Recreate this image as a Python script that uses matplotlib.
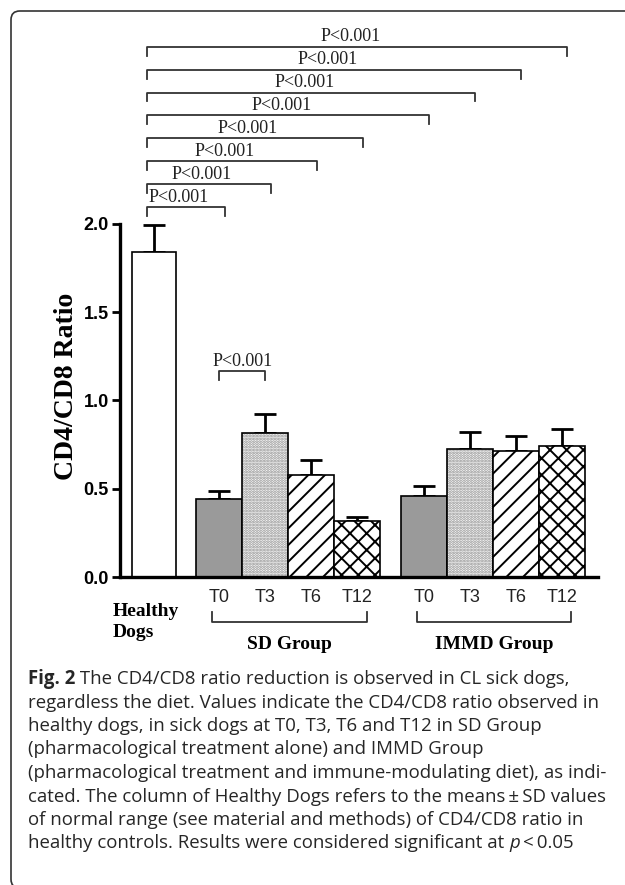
"""CD4/CD8 ratio bar chart with significance brackets and figure caption"""

import matplotlib
matplotlib.use("Agg")
import matplotlib.pyplot as plt
from matplotlib.patches import FancyBboxPatch

# data
tick_labels = ["T0", "T3", "T6", "T12", "T0", "T3", "T6", "T12"]
healthy_mean = 1.84
healthy_sd = 0.155
sd_means = [0.44, 0.815, 0.578, 0.317]
sd_err = [0.05, 0.11, 0.085, 0.023]
immd_means = [0.46, 0.725, 0.714, 0.742]
immd_err = [0.056, 0.095, 0.086, 0.098]
group_names = ["SD Group", "IMMD Group"]
# (from bar, to bar) in drawing order; 0 = healthy dogs
comparisons = [(0, 1), (0, 2), (0, 3), (0, 4), (0, 5), (0, 6), (0, 7), (0, 8)]
inner_comparison = (1, 2)
p_label = "P<0.001"

caption_lines = [
    "regardless the diet. Values indicate the CD4/CD8 ratio observed in",
    "healthy dogs, in sick dogs at T0, T3, T6 and T12 in SD Group",
    "(pharmacological treatment alone) and IMMD Group",
    "(pharmacological treatment and immune-modulating diet), as indi-",
    "cated. The column of Healthy Dogs refers to the means\u2009\u00b1\u2009SD values",
    "of normal range (see material and methods) of CD4/CD8 ratio in",
]

W, H = 625, 885
SERIF = ["Liberation Serif", "DejaVu Serif"]
CAP = ["Open Sans", "DejaVu Sans"]

plt.rcParams["hatch.linewidth"] = 1.4

fig = plt.figure(figsize=(W / 100, H / 100), dpi=100)
ax = fig.add_axes([120 / W, 1 - 577 / H, (598 - 120) / W, (577 - 224) / H])

# bar positions (in bar widths)
sd_x = [1.42 + i for i in range(4)]
immd_x = [5.86 + i for i in range(4)]
all_x = [0.0] + sd_x + immd_x

fills = ["#9a9a9a", "white", "white", "white"]
hatches = [None, "......", "//", "xx"]
hatch_cols = ["black", "#8c8c8c", "black", "black"]

ax.bar([0.0], [healthy_mean], width=0.96, color="white", edgecolor="black", linewidth=1.2, zorder=2)
for xs, ms in [(sd_x, sd_means), (immd_x, immd_means)]:
    for x, m, fc, h, hc in zip(xs, ms, fills, hatches, hatch_cols):
        # hatch first (its colour follows the edge colour), then the black outline
        ax.bar([x], [m], width=1.0, color=fc, edgecolor=hc, hatch=h, linewidth=0, zorder=2)
        ax.bar([x], [m], width=1.0, fill=False, edgecolor="black", linewidth=1.2, zorder=2)

means = [healthy_mean] + sd_means + immd_means
errs = [healthy_sd] + sd_err + immd_err
ax.errorbar(all_x, means, yerr=[[0] * len(errs), errs], fmt="none", ecolor="black",
            elinewidth=2, capsize=8, capthick=2, zorder=1)

ax.set_xlim(-0.74, 9.65)
ax.set_ylim(0, 2.0)
ax.set_yticks([0.0, 0.5, 1.0, 1.5, 2.0])
ax.set_yticklabels(["0.0", "0.5", "1.0", "1.5", "2.0"], fontweight="bold",
                   family=["Liberation Sans", "DejaVu Sans"], fontsize=13)
ax.set_xticks(all_x[1:])
ax.set_xticklabels(tick_labels, family=["Liberation Sans Narrow", "Liberation Sans"],
                   fontsize=13, color="#222222")
ax.tick_params(axis="x", length=0, pad=9)
ax.tick_params(axis="y", length=6, width=2, direction="out", pad=2)
for side in ["top", "right"]:
    ax.spines[side].set_visible(False)
for side in ["left", "bottom"]:
    ax.spines[side].set_linewidth(2.4)
ax.set_ylabel("CD4/CD8 Ratio", family=SERIF, fontweight="bold", fontsize=20)
ax.yaxis.set_label_coords(-0.086, 0.54)

# significance brackets over the chart
for i, (a, b) in enumerate(comparisons):
    y = 2.096 + i * 0.1297
    x0 = all_x[a] - 0.15
    x1 = all_x[b] + 0.12
    ax.plot([x0, x0, x1, x1], [y - 0.05, y, y, y - 0.05], color="#333333", lw=1.3, clip_on=False)
    ax.text((x0 + x1) / 2 - 0.15, y + 0.008, p_label, ha="center", va="bottom",
            family=SERIF, fontsize=13, color="#222222", clip_on=False)

a, b = inner_comparison
y = 1.167
ax.plot([all_x[a], all_x[a], all_x[b], all_x[b]], [y - 0.05, y, y, y - 0.05], color="#333333", lw=1.3)
ax.text((all_x[a] + all_x[b]) / 2, y + 0.008, p_label, ha="center", va="bottom",
        family=SERIF, fontsize=13, color="#222222")

# labels under the axis
ax.text(-0.89, -0.255, "Healthy\nDogs", ha="left", va="center", family=SERIF, fontweight="bold",
        fontsize=14, linespacing=1.3, clip_on=False)
for xs, name in [(sd_x, group_names[0]), (immd_x, group_names[1])]:
    x0, x1 = xs[0] - 0.15, xs[-1] + 0.2
    ax.plot([x0, x0, x1, x1], [-0.198, -0.255, -0.255, -0.198], color="#333333", lw=1.3, clip_on=False)
    ax.text((x0 + x1) / 2, -0.385, name, ha="center", va="center", family=SERIF,
            fontweight="bold", fontsize=14, clip_on=False)

# frame around the figure panel (right and bottom edges run off the picture)
frame = FancyBboxPatch((11 / W, -3 / H), (W + 20) / W, (H - 8) / H,
                       boxstyle="round,pad=0,rounding_size=0.014", transform=fig.transFigure,
                       fill=False, edgecolor="#333333", linewidth=1.2, mutation_aspect=W / H)
fig.patches.append(frame)

# caption
renderer = fig.canvas.get_renderer()


def draw_runs(x, y, runs):
    for text, kw in runs:
        t = fig.text(x / W, 1 - y / H, text, va="center", ha="left", fontsize=13.4,
                     color="#262626", **kw)
        x += t.get_window_extent(renderer).width


line_y = 679
draw_runs(28, line_y, [("Fig. 2", dict(family=CAP, fontweight="bold")),
                       (" The CD4/CD8 ratio reduction is observed in CL sick dogs,", dict(family=CAP))])
for i, line in enumerate(caption_lines):
    draw_runs(28, line_y + (i + 1) * 23.5, [(line, dict(family=CAP))])
draw_runs(28, line_y + 7 * 23.5, [("healthy controls. Results were considered significant at ", dict(family=CAP)),
                                  ("p", dict(family=CAP, style="italic")),
                                  ("\u2009<\u20090.05", dict(family=CAP))])

fig.savefig("out.png", dpi=100)
